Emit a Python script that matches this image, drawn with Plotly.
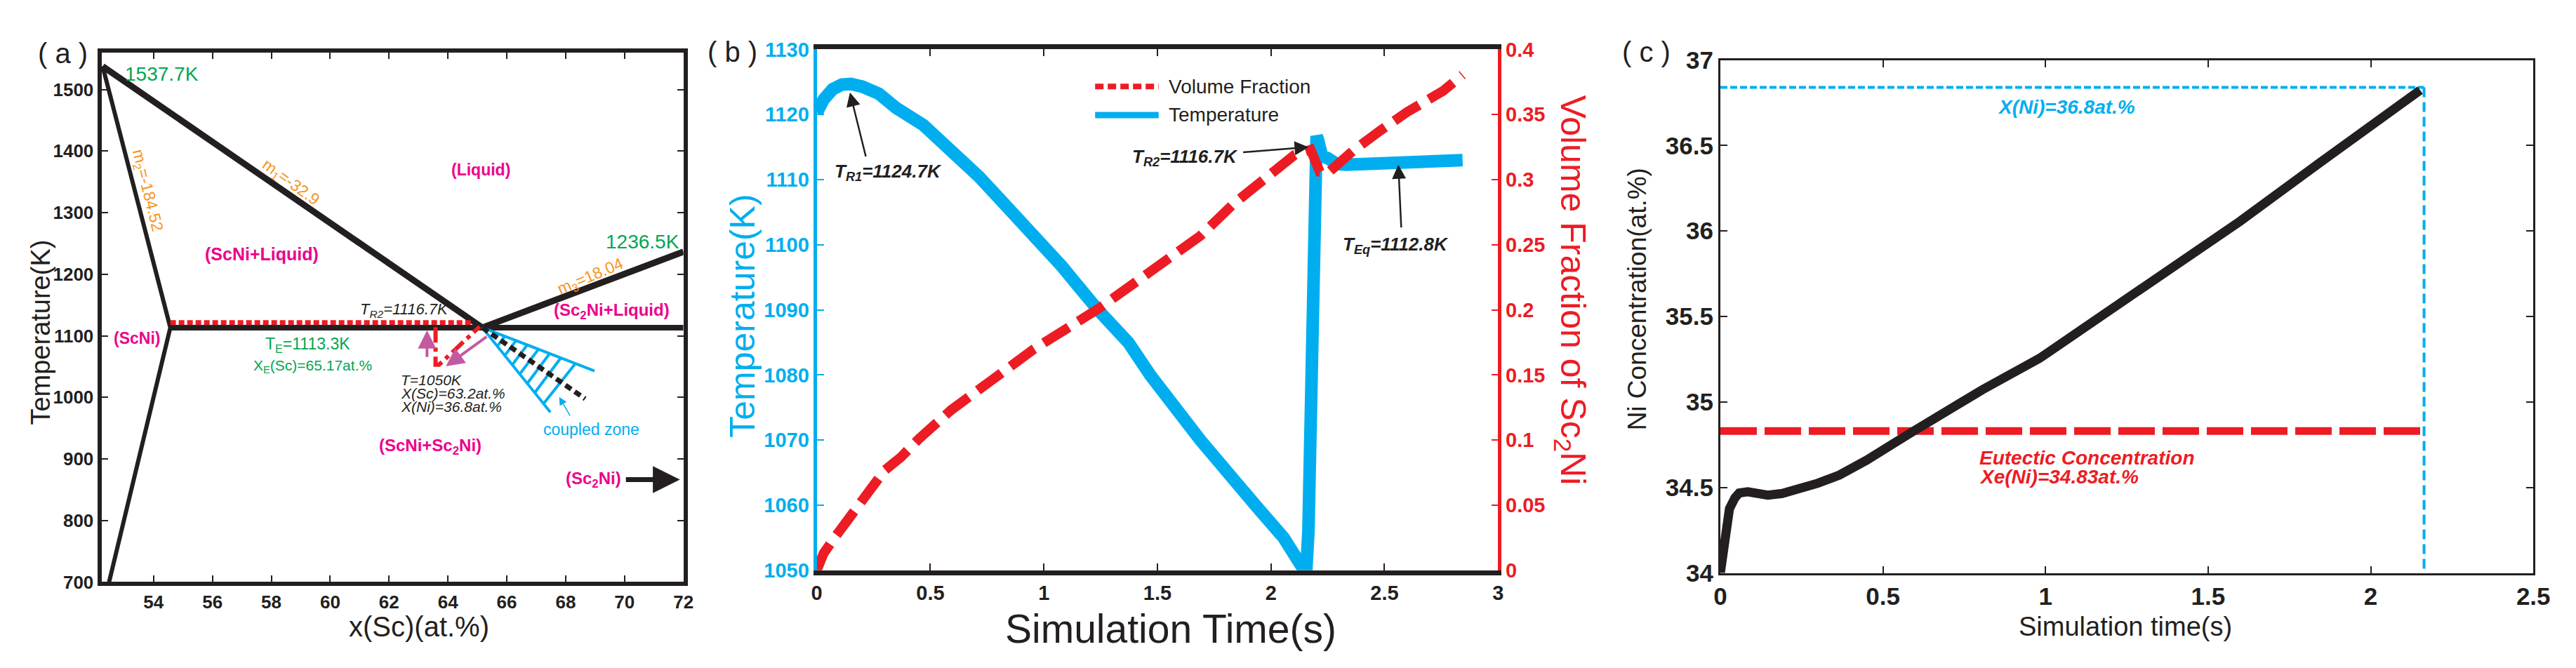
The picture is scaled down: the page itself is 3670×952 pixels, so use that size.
import plotly.graph_objects as go

W, H = 3670, 952
FONT = "Liberation Sans, Arial, sans-serif"
BLUE = "#00AEEF"; RED = "#ED1C24"; BLACK = "#231F20"; GREEN = "#00A651"
ORANGE = "#F7941D"; MAGENTA = "#EC008C"; PURPLE = "#C25AA1"

# ---------------- Panel (a): Sc-Ni phase diagram ----------------
a_xticks = [54, 56, 58, 60, 62, 64, 66, 68, 70, 72]
a_yticks = [700, 800, 900, 1000, 1100, 1200, 1300, 1400, 1500]
liq1_x = [52.27, 65.17]; liq1_T = [1537.7, 1113.3]          # m1=-32.9
liq3_x = [65.17, 72.0]; liq3_T = [1113.3, 1236.5]           # m3=18.04
sol_x = [52.27, 54.57, 52.49]; sol_T = [1537.7, 1113.3, 700]  # m2 and solvus
eut_x = [54.57, 72.0]; eut_T = [1113.3, 1113.3]
tr2_x = [54.57, 64.85]; tr2_T = [1121.5, 1121.5]
path_x = [63.58, 63.58, 63.70, 65.08]; path_T = [1114, 1053, 1053, 1115]
growth_x = [65.17, 68.66]; growth_T = [1113.3, 997.7]
zone_apex = (65.17, 1113.3)
zone_upper_end = (68.98, 1043.0)
zone_lower_end = (67.48, 975.9)
hatch_lower_frac = [0.22, 0.33, 0.44, 0.55, 0.66, 0.77, 0.9]
hatch_upper_frac = [0.2, 0.3, 0.4, 0.5, 0.6, 0.7, 0.83]

# ---------------- Panel (b): temperature & volume fraction ----------------
b_xticks = [0, 0.5, 1, 1.5, 2, 2.5, 3]
b_xtext = ["0", "0.5", "1", "1.5", "2", "2.5", "3"]
b_yticks = [1050, 1060, 1070, 1080, 1090, 1100, 1110, 1120, 1130]
b_y2ticks = [0, 0.05, 0.1, 0.15, 0.2, 0.25, 0.3, 0.35, 0.4]
temp_t = [0.0, 0.03, 0.07, 0.11, 0.15, 0.2, 0.273, 0.35, 0.469, 0.59, 0.713, 0.82,
          0.933, 1.079, 1.238, 1.372, 1.47, 1.689, 1.934, 2.056, 2.141, 2.155,
          2.165, 2.175, 2.185, 2.195, 2.201, 2.208, 2.215, 2.225, 2.25, 2.29,
          2.33, 2.4, 2.5, 2.6, 2.7, 2.8, 2.844]
temp_T = [1120.3, 1122.3, 1123.9, 1124.6, 1124.7, 1124.3, 1123.2, 1121.0, 1118.4, 1114.6,
          1110.5, 1106.5, 1102.5, 1096.7, 1090.0, 1085.0, 1079.9, 1070.0, 1059.9, 1055.0,
          1050.3, 1049.6, 1056.0, 1080.0, 1106.0, 1115.0, 1116.7, 1116.0, 1114.5, 1113.6,
          1113.3, 1112.4, 1112.3, 1112.4, 1112.5, 1112.7, 1112.8, 1112.9, 1113.0]
vf_t = [0.0, 0.01, 0.03, 0.078, 0.15, 0.298, 0.371, 0.45, 0.591, 0.75, 0.835, 0.957,
        1.238, 1.45, 1.69, 1.836, 1.983, 2.104, 2.175, 2.19, 2.215, 2.25, 2.29,
        2.36, 2.48, 2.6, 2.757, 2.844]
vf = [0.0, 0.006, 0.013, 0.025, 0.042, 0.0766, 0.087, 0.101, 0.123, 0.144, 0.154, 0.17,
      0.2006, 0.227, 0.257, 0.2815, 0.302, 0.319, 0.323, 0.316, 0.306, 0.305, 0.312,
      0.322, 0.3375, 0.352, 0.368, 0.3805]

# ---------------- Panel (c): Ni concentration ----------------
c_xticks = [0, 0.5, 1, 1.5, 2, 2.5]
c_xtext = ["0", "0.5", "1", "1.5", "2", "2.5"]
c_yticks = [34, 34.5, 35, 35.5, 36, 36.5, 37]
c_ytext = ["34", "34.5", "35", "35.5", "36", "36.5", "37"]
ni_t = [0.0, 0.005, 0.014, 0.028, 0.045, 0.058, 0.084, 0.12, 0.146, 0.19, 0.225, 0.3,
        0.366, 0.45, 0.577, 0.7, 0.806, 0.982, 1.052, 1.298, 1.598, 1.861, 2.037, 2.152]
ni_c = [34.0, 34.08, 34.206, 34.376, 34.44, 34.468, 34.475, 34.462, 34.455, 34.465, 34.48,
        34.525, 34.573, 34.66, 34.81, 34.95, 35.072, 35.256, 35.348, 35.663, 36.057,
        36.424, 36.67, 36.824]
eutectic_conc = 34.83
final_conc = 36.84
final_time = 2.164

fig = go.Figure()


def line(x, y, xa, ya, color, width, dash="solid"):
    fig.add_trace(go.Scatter(x=x, y=y, xaxis=xa, yaxis=ya, mode="lines",
                             line=dict(color=color, width=width, dash=dash),
                             hoverinfo="skip", showlegend=False))


# panel a traces
line(liq1_x, liq1_T, "x", "y", BLACK, 9)
line(liq3_x, liq3_T, "x", "y", BLACK, 9)
line(sol_x, sol_T, "x", "y", BLACK, 6)
line(eut_x, eut_T, "x", "y", BLACK, 8)
line(tr2_x, tr2_T, "x", "y", RED, 7, "8px,4px")
line(path_x, path_T, "x", "y", RED, 6, "22px,7px,6px,7px")
line([zone_apex[0], zone_upper_end[0]], [zone_apex[1], zone_upper_end[1]], "x", "y", BLUE, 4)
line([zone_apex[0], zone_lower_end[0]], [zone_apex[1], zone_lower_end[1]], "x", "y", BLUE, 4)
for fl, fu in zip(hatch_lower_frac, hatch_upper_frac):
    lx = zone_apex[0] + fl * (zone_lower_end[0] - zone_apex[0])
    ly = zone_apex[1] + fl * (zone_lower_end[1] - zone_apex[1])
    ux = zone_apex[0] + fu * (zone_upper_end[0] - zone_apex[0])
    uy = zone_apex[1] + fu * (zone_upper_end[1] - zone_apex[1])
    line([lx, ux], [ly, uy], "x", "y", BLUE, 4)
line(growth_x, growth_T, "x", "y", BLACK, 7, "10px,6px")

# panel b traces
line(temp_t, temp_T, "x2", "y2", BLUE, 18)
line(vf_t, vf, "x2", "y3", RED, 14, "42px,16px")

# panel c traces
line([0, final_time], [final_conc, final_conc], "x3", "y4", BLUE, 4, "10px,4px")
line([final_time, final_time], [final_conc, 34.0], "x3", "y4", BLUE, 4, "14px,7px")
line([0, final_time], [eutectic_conc, eutectic_conc], "x3", "y4", RED, 11, "52px,11px")
line(ni_t, ni_c, "x3", "y4", BLACK, 13)


def px(x):
    return x / W


def py(y):
    return 1 - y / H


def tf(size, color=BLACK, bold=True):
    return dict(family=FONT, size=size, color=color, weight="bold" if bold else "normal")


common = dict(showgrid=False, zeroline=False, ticks="inside", showline=True)

layout = dict(
    width=W, height=H, margin=dict(l=0, r=0, t=0, b=0),
    paper_bgcolor="white", plot_bgcolor="white", showlegend=False,
    font=dict(family=FONT, color=BLACK),
    xaxis=dict(domain=[px(127.7), px(964.6)], range=[52.23, 72], anchor="y",
               tickvals=a_xticks, ticklen=9, tickwidth=2, tickcolor=BLACK,
               linewidth=6, linecolor=BLACK, mirror="ticks", tickfont=tf(26), **common),
    yaxis=dict(domain=[py(835.7), py(49)], range=[700, 1560], anchor="x",
               tickvals=a_yticks, ticklen=9, tickwidth=2, tickcolor=BLACK,
               linewidth=6, linecolor=BLACK, mirror="ticks", tickfont=tf(26), **common),
    xaxis2=dict(domain=[px(1156.4), px(2136)], range=[0, 3], anchor="y2",
                tickvals=b_xticks, ticktext=b_xtext, ticklen=10, tickwidth=2, tickcolor=BLACK,
                linewidth=7, linecolor=BLACK, mirror="ticks", tickfont=tf(29), **common),
    yaxis2=dict(domain=[py(818.3), py(44.3)], range=[1050, 1130], anchor="x2",
                tickvals=b_yticks, ticklen=10, tickwidth=2, tickcolor=BLUE,
                linewidth=5, linecolor=BLUE, tickfont=tf(29, BLUE), **common),
    yaxis3=dict(overlaying="y2", side="right", range=[0, 0.4], anchor="x2",
                tickvals=b_y2ticks, ticklen=9, tickwidth=2, tickcolor=RED,
                linewidth=5, linecolor=RED, tickfont=tf(29, RED), **common),
    xaxis3=dict(domain=[px(2455.7), px(3624.8)], range=[0, 2.5], anchor="y4",
                tickvals=c_xticks, ticktext=c_xtext, ticklen=10, tickwidth=2, tickcolor=BLACK,
                linewidth=3, linecolor=BLACK, mirror="ticks", tickfont=tf(35), **common),
    yaxis4=dict(domain=[py(822.3), py(60)], range=[34, 37], anchor="x3",
                tickvals=c_yticks, ticktext=c_ytext, ticklen=10, tickwidth=2, tickcolor=BLACK,
                linewidth=3, linecolor=BLACK, mirror="ticks", tickfont=tf(35), **common),
)
fig.update_layout(**layout)

ann = []


def text(x, y, t, size, color=BLACK, xref="paper", yref="paper", angle=0, xanchor="center",
         bold=False, italic=False):
    s = t
    if italic:
        s = "<i>" + s + "</i>"
    if bold:
        s = "<b>" + s + "</b>"
    ann.append(dict(x=x, y=y, xref=xref, yref=yref, text=s, showarrow=False, textangle=angle,
                    xanchor=xanchor, yanchor="middle",
                    font=dict(family=FONT, size=size, color=color)))


def arrow(x, y, ax, ay, xref, yref, color, width, head=2, size=1.0):
    ann.append(dict(x=x, y=y, ax=ax, ay=ay, xref=xref, yref=yref, axref=xref, ayref=yref,
                    text="", showarrow=True, arrowhead=head, arrowsize=size,
                    arrowwidth=width, arrowcolor=color, standoff=0, startstandoff=0))


# panel labels & titles
text(px(72), py(50), "( a )", 40)
text(px(1035), py(48), "( b )", 40)
text(px(2349), py(48), "( c )", 40)
text(px(40), py(465), "Temperature(K)", 38, angle=-90)
text(px(584), py(902), "x(Sc)(at.%)", 40)
text(px(1049.5), py(440), "Temperature(K)", 50, BLUE, angle=-90)
text(px(1665), py(905), "Simulation Time(s)", 57)
text(px(2240.7), py(402), "Volume Fraction of Sc<sub>2</sub>Ni", 50, RED, angle=90)
text(px(2337), py(415), "Ni Concentration(at.%)", 37, angle=-90)
text(px(3038), py(902), "Simulation time(s)", 38)

# panel a texts
text(54.29, 1525.5, "1537.7K", 28, GREEN, "x", "y")
text(70.62, 1252.7, "1236.5K", 28, GREEN, "x", "y")
text(53.77, 1335.5, "m<sub>2</sub>=-184.52", 23, ORANGE, "x", "y", angle=76)
text(58.66, 1349.0, "m<sub>1</sub>=-32.9", 23, ORANGE, "x", "y", angle=36)
text(68.86, 1195.3, "m<sub>3</sub>=18.04", 23, ORANGE, "x", "y", angle=-23)
text(65.11, 1369.4, "(Liquid)", 23, MAGENTA, "x", "y", bold=True)
text(57.67, 1232.8, "(ScNi+Liquid)", 25, MAGENTA, "x", "y", bold=True)
text(69.57, 1139.8, "(Sc<sub>2</sub>Ni+Liquid)", 24, MAGENTA, "x", "y", bold=True)
text(53.44, 1096.4, "(ScNi)", 23, MAGENTA, "x", "y", bold=True)
text(63.39, 920.4, "(ScNi+Sc<sub>2</sub>Ni)", 24, MAGENTA, "x", "y", bold=True)
text(68.94, 866.9, "(Sc<sub>2</sub>Ni)", 24, MAGENTA, "x", "y", bold=True)
text(62.52, 1141.5, "T<sub>R2</sub>=1116.7K", 22, BLACK, "x", "y", italic=True)
text(59.23, 1085.5, "T<sub>E</sub>=1113.3K", 23, GREEN, "x", "y")
text(59.40, 1050.5, "X<sub>E</sub>(Sc)=65.17at.%", 21, GREEN, "x", "y")
text(62.36, 1028.6, "T=1050K", 21, BLACK, "x", "y", xanchor="left", italic=True)
text(62.36, 1006.8, "X(Sc)=63.2at.%", 21, BLACK, "x", "y", xanchor="left", italic=True)
text(62.36, 984.9, "X(Ni)=36.8at.%", 21, BLACK, "x", "y", xanchor="left", italic=True)
text(68.88, 947.4, "coupled zone", 23, BLUE, "x", "y")
arrow(71.88, 866.5, 70.01, 866.5, "x", "y", BLACK, 7, head=2, size=1.1)
arrow(63.29, 1109.0, 63.29, 1064.0, "x", "y", PURPLE, 4, head=2, size=1.3)
arrow(63.93, 1050.5, 65.35, 1099.7, "x", "y", PURPLE, 4, head=2, size=1.3)
arrow(67.78, 1000.5, 68.17, 968.5, "x", "y", BLUE, 1.5, head=2, size=1.5)

# panel b texts
text(0.316, 1111.1, "T<sub>R1</sub>=1124.7K", 26, BLACK, "x2", "y2", bold=True, italic=True)
text(1.622, 1113.4, "T<sub>R2</sub>=1116.7K", 26, BLACK, "x2", "y2", bold=True, italic=True)
text(2.551, 1099.95, "T<sub>Eq</sub>=1112.8K", 26, BLACK, "x2", "y2", bold=True, italic=True)
arrow(0.146, 1123.4, 0.217, 1113.4, "x2", "y2", BLACK, 2.5, head=2, size=1.6)
arrow(2.166, 1115.0, 1.873, 1114.2, "x2", "y2", BLACK, 2.5, head=2, size=1.6)
arrow(2.561, 1112.3, 2.574, 1102.5, "x2", "y2", BLACK, 2.5, head=2, size=1.6)
# legend for b
fig.add_shape(type="line", xref="paper", yref="paper", x0=px(1556.6), x1=px(1648),
              y0=py(99.3), y1=py(99.3), line=dict(color=RED, width=8, dash="12px,6px"))
fig.add_shape(type="line", xref="paper", yref="paper", x0=px(1556.6), x1=px(1648),
              y0=py(141.7), y1=py(141.7), line=dict(color=BLUE, width=9))
text(px(1660), py(99.3), "Volume Fraction", 28, xanchor="left")
text(px(1660), py(141.7), "Temperature", 28, xanchor="left")

# panel c texts
text(1.064, 36.726, "X(Ni)=36.8at.%", 28, BLUE, "x3", "y4", bold=True, italic=True)
text(0.792, 34.672, "Eutectic Concentration", 28, RED, "x3", "y4", xanchor="left", bold=True, italic=True)
text(0.792, 34.563, "Xe(Ni)=34.83at.%", 28, RED, "x3", "y4", xanchor="left", bold=True, italic=True)

fig.update_layout(annotations=ann)
fig.write_html("out.html", config={"displayModeBar": False})
